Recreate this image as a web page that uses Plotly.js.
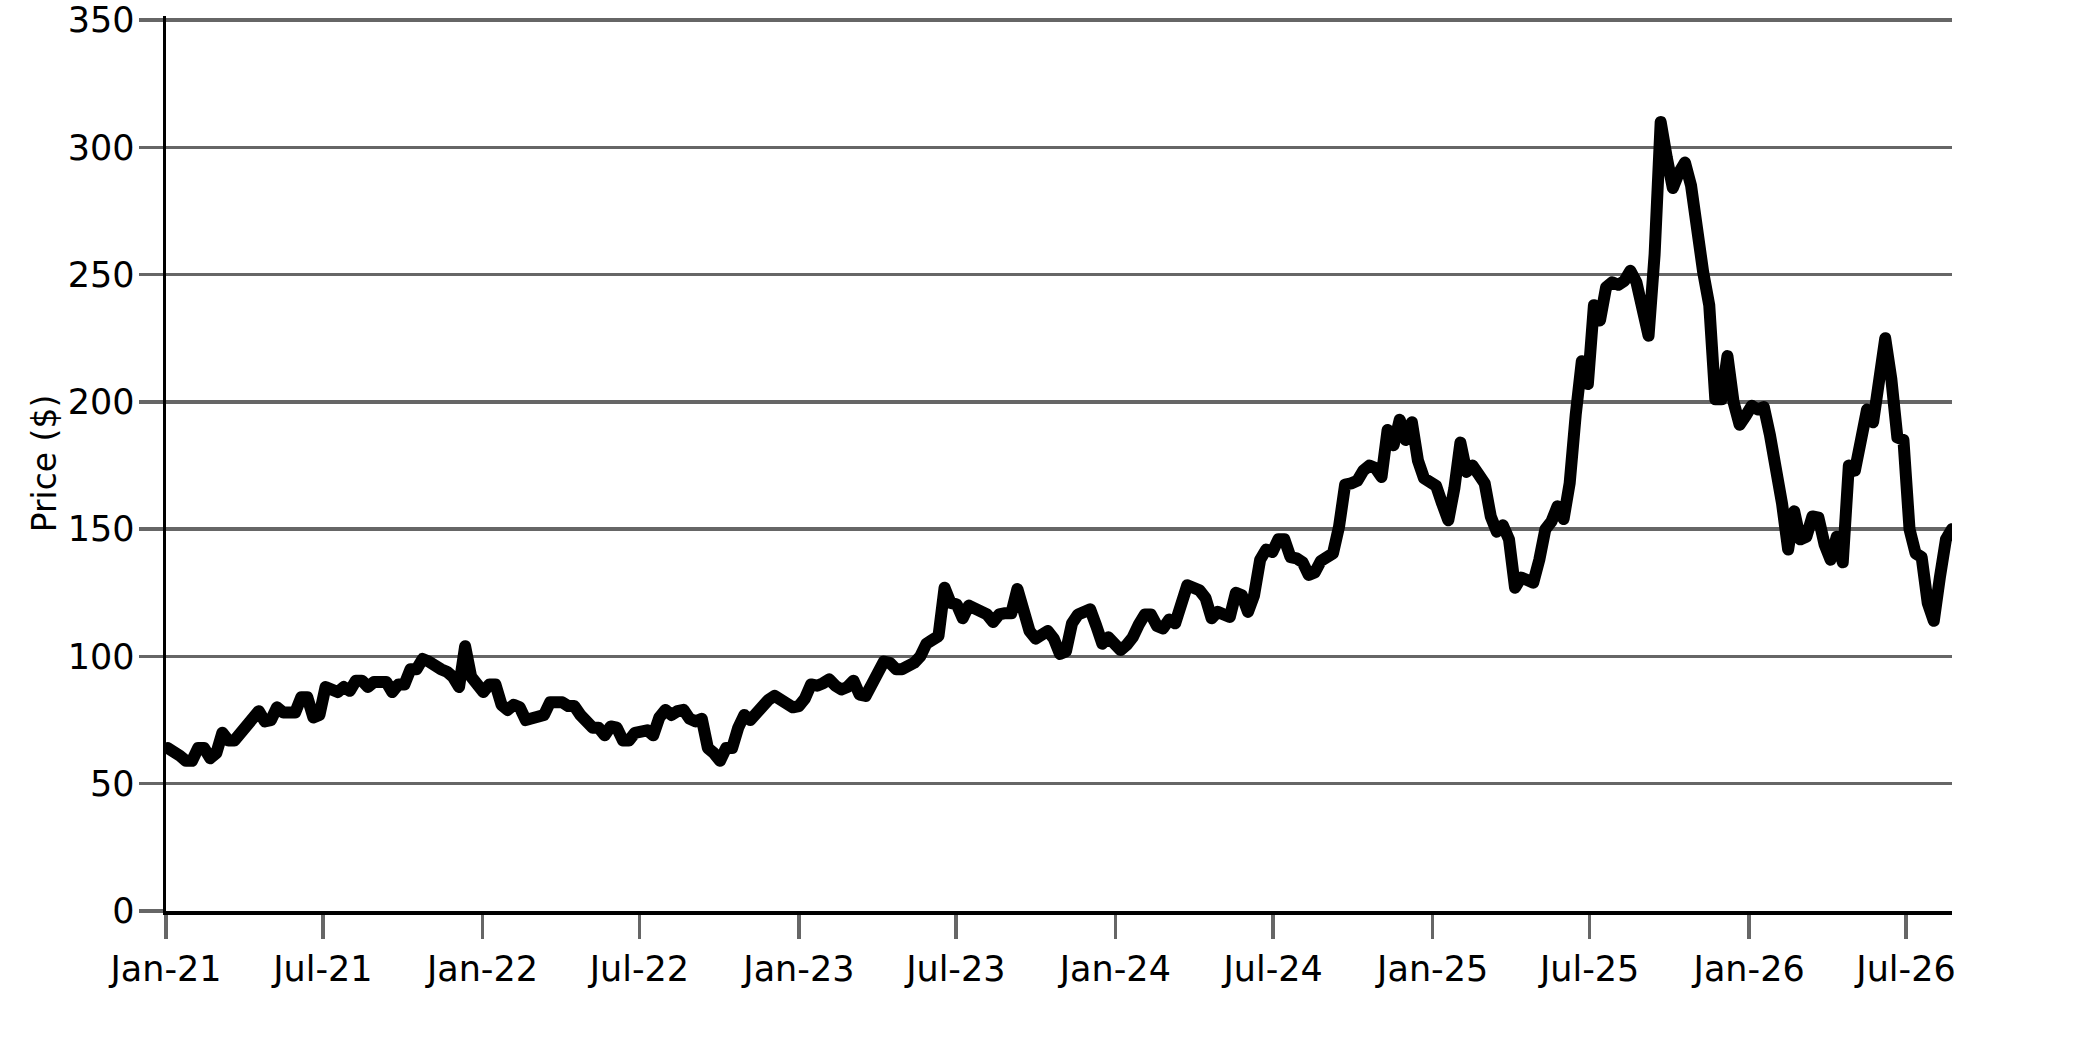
<!DOCTYPE html>
<html>
<head>
<meta charset="utf-8">
<script src="https://cdn.plot.ly/plotly-3.0.1.min.js"></script>
<style>
  html, body { margin: 0; padding: 0; background: #fff; }
  #chart { width: 2083px; height: 1042px; }
  /* rounded joins like the original drawing */
  #chart .js-line { stroke-linejoin: round; stroke-linecap: round; }
</style>
</head>
<body>
<div id="chart"></div>
<script>
// weekly closing prices, first week starts 2021-01-03
const firstWeek = '2021-01-03';

const prices2021 = [64, 63, 61, 59, 59, 64, 64, 60, 62, 70, 67, 67, 70, 74, 77, 78.5, 74.5, 75, 80, 78,
    78, 78, 84, 84, 76, 77, 88, 87, 86, 88, 86.5, 90.5, 90.5, 88, 90, 90, 90, 86, 89, 89,
    95, 95, 99, 98, 96, 95, 94, 92, 88, 104, 92, 88];
const prices2022 = [86, 89, 89, 81, 79, 81, 80, 75, 75.5, 76, 77, 82, 82, 82, 80.5, 80.5, 77, 74, 72, 72,
    69, 72.5, 72, 67, 67, 70, 70, 71, 69, 76, 79, 77, 78.5, 79, 75.5, 74.5, 75.5, 64, 62, 59,
    64, 64, 72, 77, 75, 78, 80.5, 83, 84.5, 83, 80.5, 80];
const prices2023 = [80.5, 83.5, 89, 88.5, 89.5, 91, 88.5, 87, 88, 90.5, 85, 84.5, 89, 94, 98, 97.5, 95, 95, 96, 97.5,
    100, 105, 106.5, 108, 127, 121, 120.5, 115, 120, 119, 118, 116.5, 113.5, 116.5, 117, 117, 126.5, 117, 110, 107,
    109, 110, 107, 101, 102, 113, 116.5, 118, 118.5, 112, 105, 107.5, 105];
const prices2024 = [102.5, 104.5, 107.5, 112.5, 116.5, 116.5, 112, 111, 114.5, 113, 121, 128, 127, 126, 123, 115, 117.5, 116.5, 115.5, 125,
    124, 117.5, 124, 138, 142, 141, 146, 146, 139, 138.5, 137, 132, 133, 137.5, 139, 140.5, 151, 167.5, 168, 169,
    173, 175, 174, 170.5, 189, 183, 193, 185, 192, 177, 170, 168.5];
const prices2025 = [167, 160, 153.5, 166, 184, 172.5, 175, 171.5, 168, 155, 149, 151.5, 146, 127, 131, 130, 129, 138, 150, 153,
    159, 154, 168, 195, 216, 207, 238, 232, 245, 247, 246, 247.5, 251.5, 247, 235, 226, 258, 310, 296, 284,
    290, 294, 285, 265, 251, 238, 201, 201, 218, 200, 191, 194.5];
const prices2026 = [198.5, 197, 198, 187, 175.5, 160, 142, 157, 146, 147, 155, 154.5, 144, 138, 147, 137, 175, 173, 185, 197,
    192, 210, 225, 209, 186, 185, 150, 140.5, 139, 121, 114, 131, 146, 150];

const prices = [].concat(prices2021, prices2022, prices2023, prices2024, prices2025, prices2026);

const weeks = prices.map((p, i) => {
    const d = new Date(Date.parse(firstWeek + 'T00:00:00Z') + i * 7 * 86400000);
    return d.toISOString().slice(0, 10);
});

const data = [{
    x: weeks,
    y: prices,
    type: 'scatter',
    mode: 'lines',
    line: { color: '#000000', width: 12 },
    hoverinfo: 'skip',
}];

const grey = '#666666';
const layout = {
    width: 2083,
    height: 1042,
    // range top a touch above 350 so the 350 grid line is kept
    margin: { l: 166, r: 131, t: 16, b: 131 },
    paper_bgcolor: '#ffffff',
    plot_bgcolor: '#ffffff',
    showlegend: false,
    font: { family: 'DejaVu Sans', size: 34, color: '#000000' },
    xaxis: {
        type: 'date',
        range: ['2021-01-01', weeks[weeks.length - 1]],
        tick0: '2021-01-01',
        dtick: 'M6',
        tickformat: '%b-%y',
        ticks: 'outside',
        ticklen: 24,
        tickwidth: 3.5,
        tickcolor: grey,
        showline: true,
        linecolor: '#000000',
        linewidth: 3.5,
        showgrid: false,
        zeroline: false,
        tickfont: { size: 35 },
    },
    yaxis: {
        range: [0, 351.6],
        tick0: 0,
        dtick: 50,
        ticks: 'outside',
        ticklen: 24,
        tickwidth: 3.5,
        tickcolor: grey,
        showline: true,
        linecolor: '#000000',
        linewidth: 3.5,
        showgrid: true,
        gridcolor: grey,
        gridwidth: 3.5,
        zeroline: false,
        tickfont: { size: 35 },
        ticklabelstandoff: -3,
        title: { text: 'Price ($)', font: { size: 33 }, standoff: 2 },
    },
};

Plotly.newPlot('chart', data, layout, { staticPlot: true, displayModeBar: false });
</script>
</body>
</html>
